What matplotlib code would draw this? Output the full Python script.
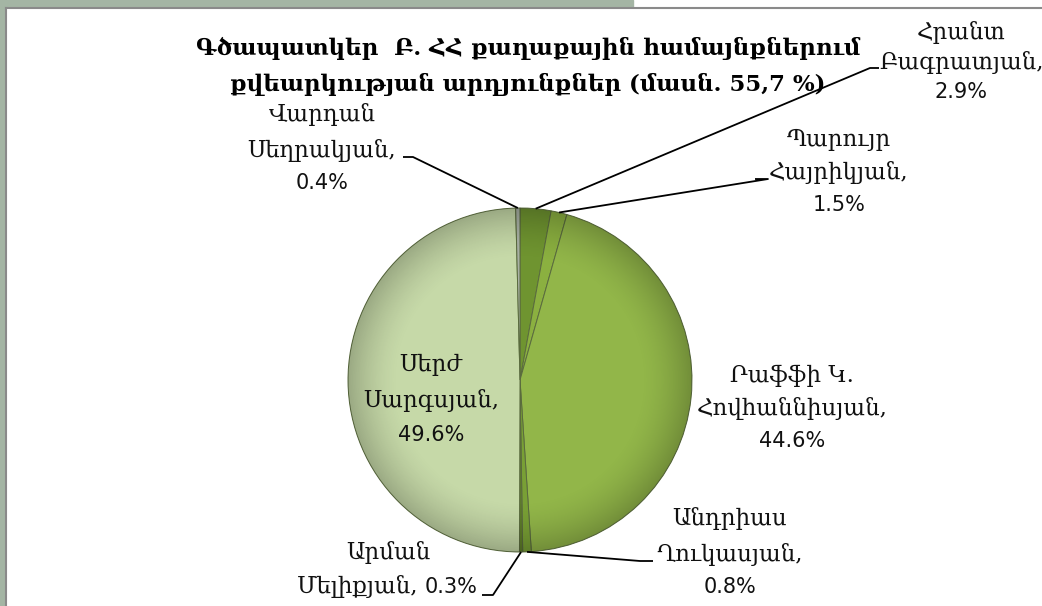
import numpy as np
import matplotlib
matplotlib.use("Agg")
import matplotlib.pyplot as plt
from matplotlib.patches import Rectangle, Circle

W, H = 1042, 606

# candidates, in the order the slices go round (clockwise from 12 o'clock)
names = ["Հրանտ Բագրատյան", "Պարույր Հայրիկյան", "Րաֆֆի Կ. Հովհաննիսյան",
         "Անդրիաս Ղուկասյան", "Արման Մելիքյան", "Սերժ Սարգսյան",
         "Վարդան Սեղրակյան"]
shares = [2.9, 1.5, 44.6, 0.8, 0.3, 49.6, 0.4]
colors = ["#6f9430", "#8bb040", "#92b649", "#79a035", "#5f7e29",
          "#c6d9a8", "#a9b1a5"]

title = "Գծապատկեր  Բ. ՀՀ քաղաքային համայնքներում\nքվեարկության արդյունքներ (մասն. 55,7 %)"

ARM = ["DejaVu Serif", "DejaVu Sans"]
NUM = ["DejaVu Sans"]


def Y(y):
    # pixel rows are counted from the top
    return H - y


def is_arm(s):
    return any("\u0530" <= c <= "\u058f" for c in s)


def put_label(ax, x, ys, lines, split=None):
    for y, s in zip(ys, lines):
        if is_arm(s) and any(c.isdigit() for c in s):
            # name and number on one line: serif name, sans number
            word, num = s.rsplit(" ", 1)
            ax.text(split, Y(y), word, ha="right", va="center", fontsize=16.5,
                    family=ARM, color="#111111")
            ax.text(split + 7, Y(y), num, ha="left", va="center", fontsize=15,
                    family=NUM, color="#111111")
            continue
        fam, size = (ARM, 16.5) if is_arm(s) else (NUM, 15)
        ax.text(x, Y(y), s, ha="center", va="center", fontsize=size,
                family=fam, color="#111111")


fig = plt.figure(figsize=(W / 100, H / 100), dpi=100)
ax = fig.add_axes([0, 0, 1, 1])
ax.set_xlim(0, W)
ax.set_ylim(0, H)
ax.set_aspect("equal")
ax.axis("off")

# window frame
ax.add_patch(Rectangle((0, Y(7)), 633, 7, color="#a4b5a4", zorder=0))
ax.add_patch(Rectangle((0, 0), 5, H, color="#a4b5a4", zorder=0))
ax.plot([5.5, 5.5], [0, Y(7.5)], color="#8a8a8a", lw=1.5)
ax.plot([5.5, W], [Y(7.5), Y(7.5)], color="#8a8a8a", lw=1.5)

cx, cy, r = 520, Y(380), 172
wedges, _ = ax.pie(shares, colors=colors, startangle=90, counterclock=False,
                   center=(cx, cy), radius=r,
                   wedgeprops=dict(edgecolor="#5a6b3e", linewidth=0.7))
ax.set_xlim(0, W)
ax.set_ylim(0, H)

# soft darkening towards the rim
gx, gy = np.meshgrid(np.linspace(-1, 1, 400), np.linspace(-1, 1, 400))
rr = np.hypot(gx, gy)
shade = np.zeros((400, 400, 4))
shade[..., 3] = np.clip((rr - 0.7) / 0.3, 0, 1) ** 1.6 * 0.22
img = ax.imshow(shade, extent=(cx - r, cx + r, cy - r, cy + r), zorder=3,
                interpolation="bilinear")
img.set_clip_path(Circle((cx, cy), r, transform=ax.transData))


def anchor(w):
    t = np.deg2rad((w.theta1 + w.theta2) / 2)
    return cx + r * np.cos(t), cy + r * np.sin(t)


def leader(w, elbow, end):
    ax0, ay0 = anchor(w)
    ax.plot([ax0, elbow[0], end[0]], [ay0, Y(elbow[1]), Y(end[1])],
            color="black", lw=1.3, zorder=4, solid_capstyle="butt")


leader(wedges[0], (870, 68), (879, 68))
leader(wedges[1], (768, 179), (755, 179))
leader(wedges[6], (413, 157), (403, 157))
leader(wedges[3], (640, 561), (653, 561))
leader(wedges[4], (493, 595), (482, 595))

put_label(ax, 961, [33, 63, 92], ["Հրանտ", "Բագրատյան,", f"{shares[0]}%"])
put_label(ax, 839, [140, 173, 205], ["Պարույր", "Հայրիկյան,", f"{shares[1]}%"])
put_label(ax, 792, [376, 409, 441], ["Րաֆֆի Կ.", "Հովհաննիսյան,", f"{shares[2]}%"])
put_label(ax, 730, [518, 555, 587], ["Անդրիաս", "Ղուկասյան,", f"{shares[3]}%"])
put_label(ax, 388, [552, 587], ["Արման", f"Մելիքյան, {shares[4]}%"], split=418)
put_label(ax, 431, [365, 400, 435], ["Սերժ", "Սարգսյան,", f"{shares[5]}%"])
put_label(ax, 322, [115, 150, 183], ["Վարդան", "Սեղրակյան,", f"{shares[6]}%"])

for i, line in enumerate(title.split("\n")):
    ax.text(528, Y(48 + 36 * i), line, ha="center", va="center",
            fontsize=16.5, fontweight="bold", family=ARM, color="black",
            zorder=5)

fig.savefig("out.png", dpi=100)
